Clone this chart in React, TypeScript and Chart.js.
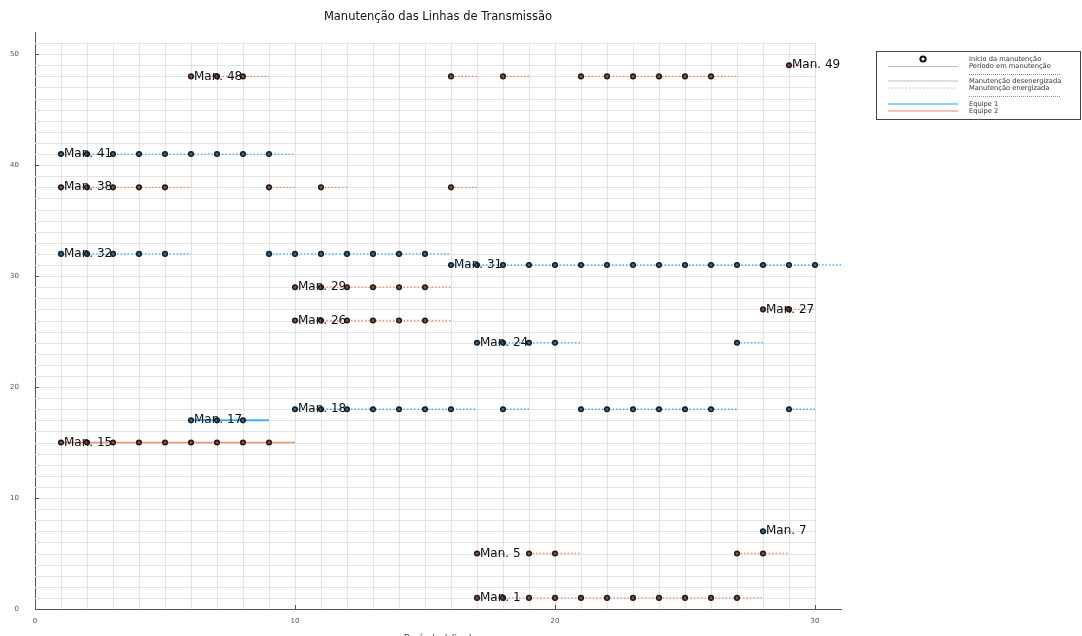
import React, { useEffect, useRef } from 'react';
import { Chart, registerables } from 'chart.js';

Chart.register(...registerables);

// ---------------- data ----------------
const chartTitle = 'Manutenção das Linhas de Transmissão';
const xAxisTitle = 'Período (dias)';
const xTickValues = [0, 10, 20, 30];
const yTickValues = [0, 10, 20, 30, 40, 50];

const maintenanceIds = [1, 5, 7, 15, 17, 18, 24, 26, 27, 29, 31, 32, 38, 41, 48, 49];
const maintenanceTeam = [2, 2, 1, 2, 1, 1, 1, 2, 2, 2, 1, 1, 2, 1, 2, 2];
const maintenanceEnergized = [true, true, true, false, false, true, true, true, true, true, true, true, true, true, true, true];

const man1Days = [17, 18, 19, 20, 21, 22, 23, 24, 25, 26, 27];
const man5Days = [17, 19, 20, 27, 28];
const man7Days = [28];
const man15Days = [1, 2, 3, 4, 5, 6, 7, 8, 9];
const man17Days = [6, 7, 8];
const man18Days = [10, 11, 12, 13, 14, 15, 16, 18, 21, 22, 23, 24, 25, 26, 29];
const man24Days = [17, 18, 19, 20, 27];
const man26Days = [10, 11, 12, 13, 14, 15];
const man27Days = [28, 29];
const man29Days = [10, 11, 12, 13, 14, 15];
const man31Days = [16, 17, 18, 19, 20, 21, 22, 23, 24, 25, 26, 27, 28, 29, 30];
const man32Days = [1, 2, 3, 4, 5, 9, 10, 11, 12, 13, 14, 15];
const man38Days = [1, 2, 3, 4, 5, 9, 11, 16];
const man41Days = [1, 2, 3, 4, 5, 6, 7, 8, 9];
const man48Days = [6, 7, 8, 16, 18, 21, 22, 23, 24, 25, 26];
const man49Days = [29];

const maintenanceDays = [
  man1Days, man5Days, man7Days, man15Days, man17Days, man18Days, man24Days, man26Days,
  man27Days, man29Days, man31Days, man32Days, man38Days, man41Days, man48Days, man49Days,
];

const legendLabels = [
  'Início da manutenção',
  'Período em manutenção',
  'Manutenção desenergizada',
  'Manutenção energizada',
  'Equipe 1',
  'Equipe 2',
];

// ---------------- styles ----------------
const FONT = 'DejaVu Sans';
const teamColor: Record<number, string> = { 1: '#1f6fa8', 2: '#9a4a32' };
const teamLine: Record<number, string> = { 1: 'rgba(0,154,250,0.75)', 2: 'rgba(227,111,71,0.75)' };
const teamLegend: Record<number, string> = { 1: 'rgba(0,154,250,0.6)', 2: 'rgba(227,111,71,0.55)' };
const X_MIN = 0, X_MAX = 31, Y_MIN = 0, Y_MAX = 52;
const GRID_X_MAX = 30, GRID_Y_MAX = 51;

function buildDatasets() {
  const sets: any[] = [];
  maintenanceIds.forEach((id, i) => {
    const days = maintenanceDays[i];
    const team = maintenanceTeam[i];
    const energized = maintenanceEnergized[i];
    let start = days[0];
    let prev = days[0];
    const runs: [number, number][] = [];
    for (let k = 1; k <= days.length; k++) {
      const d = days[k];
      if (d !== undefined && d === prev + 1) {
        prev = d;
      } else {
        runs.push([start, prev + 1]);
        if (d !== undefined) { start = d; prev = d; }
      }
    }
    runs.forEach(([a, b]) => {
      sets.push({
        type: 'scatter',
        showLine: true,
        data: [{ x: a, y: id }, { x: b, y: id }],
        borderColor: teamLine[team],
        borderWidth: energized ? 1.3 : (team === 1 ? 2 : 1.6),
        borderDash: energized ? [1.5, 2] : [],
        pointRadius: 0,
        order: 3,
      });
    });
    sets.push({
      type: 'scatter',
      showLine: false,
      data: days.map((d) => ({ x: d, y: id })),
      backgroundColor: teamColor[team],
      borderColor: '#1a1a1a',
      pointRadius: 2.3,
      pointBorderWidth: 1.5,
      pointBackgroundColor: teamColor[team],
      pointBorderColor: '#1a1a1a',
      order: 1,
    });
  });
  return sets;
}

const decorPlugin = {
  id: 'decor',
  beforeDatasetsDraw(chart: any) {
    const { ctx, scales } = chart;
    const xs = scales.x, ys = scales.y;
    ctx.save();
    ctx.strokeStyle = '#e3e3e3';
    ctx.lineWidth = 1;
    const yb = ys.getPixelForValue(0), yt = ys.getPixelForValue(GRID_Y_MAX);
    const xl = xs.getPixelForValue(0), xr = xs.getPixelForValue(GRID_X_MAX);
    for (let v = 1; v <= GRID_X_MAX; v++) {
      const x = Math.round(xs.getPixelForValue(v)) + 0.5;
      ctx.beginPath(); ctx.moveTo(x, yb); ctx.lineTo(x, yt); ctx.stroke();
    }
    for (let v = 1; v <= GRID_Y_MAX; v++) {
      const y = Math.round(ys.getPixelForValue(v)) + 0.5;
      ctx.beginPath(); ctx.moveTo(xl, y); ctx.lineTo(xr, y); ctx.stroke();
    }
    ctx.strokeStyle = '#555';
    xTickValues.forEach((v) => {
      const x = Math.round(xs.getPixelForValue(v)) + 0.5;
      ctx.beginPath(); ctx.moveTo(x, yb); ctx.lineTo(x, yb - 4); ctx.stroke();
    });
    yTickValues.forEach((v) => {
      const y = Math.round(ys.getPixelForValue(v)) + 0.5;
      ctx.beginPath(); ctx.moveTo(xl, y); ctx.lineTo(xl + 4, y); ctx.stroke();
    });
    ctx.restore();
  },
  afterDatasetsDraw(chart: any) {
    const { ctx, scales } = chart;
    const xs = scales.x, ys = scales.y;
    ctx.save();
    ctx.font = `12px "${FONT}"`;
    ctx.fillStyle = '#111';
    ctx.textBaseline = 'middle';
    ctx.textAlign = 'left';
    maintenanceIds.forEach((id, i) => {
      const x = xs.getPixelForValue(maintenanceDays[i][0]) + 3;
      const y = ys.getPixelForValue(id);
      ctx.fillText('Man. ' + id, x, y);
    });
    ctx.restore();
  },
  afterDraw(chart: any) {
    const { ctx, chartArea } = chart;
    ctx.save();
    ctx.font = `11.5px "${FONT}"`;
    ctx.fillStyle = '#111';
    ctx.textAlign = 'center';
    ctx.textBaseline = 'middle';
    ctx.fillText(chartTitle, (chartArea.left + chartArea.right) / 2, 17);
    ctx.font = `10px "${FONT}"`;
    ctx.fillStyle = '#444';
    ctx.textBaseline = 'top';
    ctx.fillText(xAxisTitle, (chartArea.left + chartArea.right) / 2, 634);

    const bx = 876.5, by = 51.5, bw = 204, bh = 68;
    ctx.fillStyle = '#fff';
    ctx.fillRect(bx, by, bw, bh);
    ctx.strokeStyle = '#444';
    ctx.lineWidth = 1;
    ctx.strokeRect(bx, by, bw, bh);

    const lx0 = 888, lx1 = 958, tx = 969;
    ctx.font = `6.7px "${FONT}"`;
    ctx.textAlign = 'left';
    ctx.textBaseline = 'middle';
    ctx.fillStyle = '#333';
    const textY = [59, 66.5, 81, 88, 104, 111];
    legendLabels.forEach((t, i) => ctx.fillText(t, tx, textY[i]));

    ctx.beginPath();
    ctx.arc(923, 59, 2.6, 0, Math.PI * 2);
    ctx.fillStyle = '#fff';
    ctx.fill();
    ctx.lineWidth = 2;
    ctx.strokeStyle = '#111';
    ctx.stroke();

    const hline = (y: number, color: string, w: number, dash: number[], x0 = lx0, x1 = lx1) => {
      ctx.beginPath();
      ctx.setLineDash(dash);
      ctx.strokeStyle = color;
      ctx.lineWidth = w;
      ctx.moveTo(x0, y);
      ctx.lineTo(x1, y);
      ctx.stroke();
      ctx.setLineDash([]);
    };
    hline(66.5, '#bdbdbd', 1, []);
    hline(74.5, '#777', 0.8, [1, 1], tx, 1061);
    hline(81, '#bdbdbd', 1, []);
    hline(88, '#bdbdbd', 1, [1.5, 2]);
    hline(96.5, '#777', 0.8, [1, 1], tx, 1061);
    hline(104, teamLegend[1], 1.5, []);
    hline(111, teamLegend[2], 1.5, []);
    ctx.restore();
  },
};

export default function App() {
  const canvasRef = useRef<HTMLCanvasElement | null>(null);

  useEffect(() => {
    if (!canvasRef.current) return;
    Chart.defaults.font.family = FONT;
    const chart = new Chart(canvasRef.current, {
      type: 'scatter',
      data: { datasets: buildDatasets() },
      options: {
        responsive: false,
        animation: false,
        events: [],
        layout: { padding: { left: 0, top: 32, right: 241, bottom: 0 } },
        plugins: {
          legend: { display: false },
          tooltip: { enabled: false },
          title: { display: false },
        },
        scales: {
          x: {
            type: 'linear',
            min: X_MIN,
            max: X_MAX,
            grid: { display: false, drawTicks: false },
            border: { display: true, color: '#555', width: 1 },
            ticks: { font: { size: 7 }, color: '#555', padding: 8, maxRotation: 0 },
            afterBuildTicks: (scale: any) => { scale.ticks = xTickValues.map((v) => ({ value: v })); },
            afterFit: (scale: any) => { scale.height = 27; },
          },
          y: {
            type: 'linear',
            min: Y_MIN,
            max: Y_MAX,
            grid: { display: false, drawTicks: false },
            border: { display: true, color: '#555', width: 1 },
            ticks: { font: { size: 7 }, color: '#555', padding: 16 },
            afterBuildTicks: (scale: any) => { scale.ticks = yTickValues.map((v) => ({ value: v })); },
            afterFit: (scale: any) => { scale.width = 35; },
          },
        },
      } as any,
      plugins: [decorPlugin],
    });
    return () => chart.destroy();
  }, []);

  return (
    <div style={{ position: 'fixed', left: 0, top: 0, width: 1082, height: 636, background: '#fff' }}>
      <canvas ref={canvasRef} width={1082} height={636} style={{ display: 'block' }} />
    </div>
  );
}
